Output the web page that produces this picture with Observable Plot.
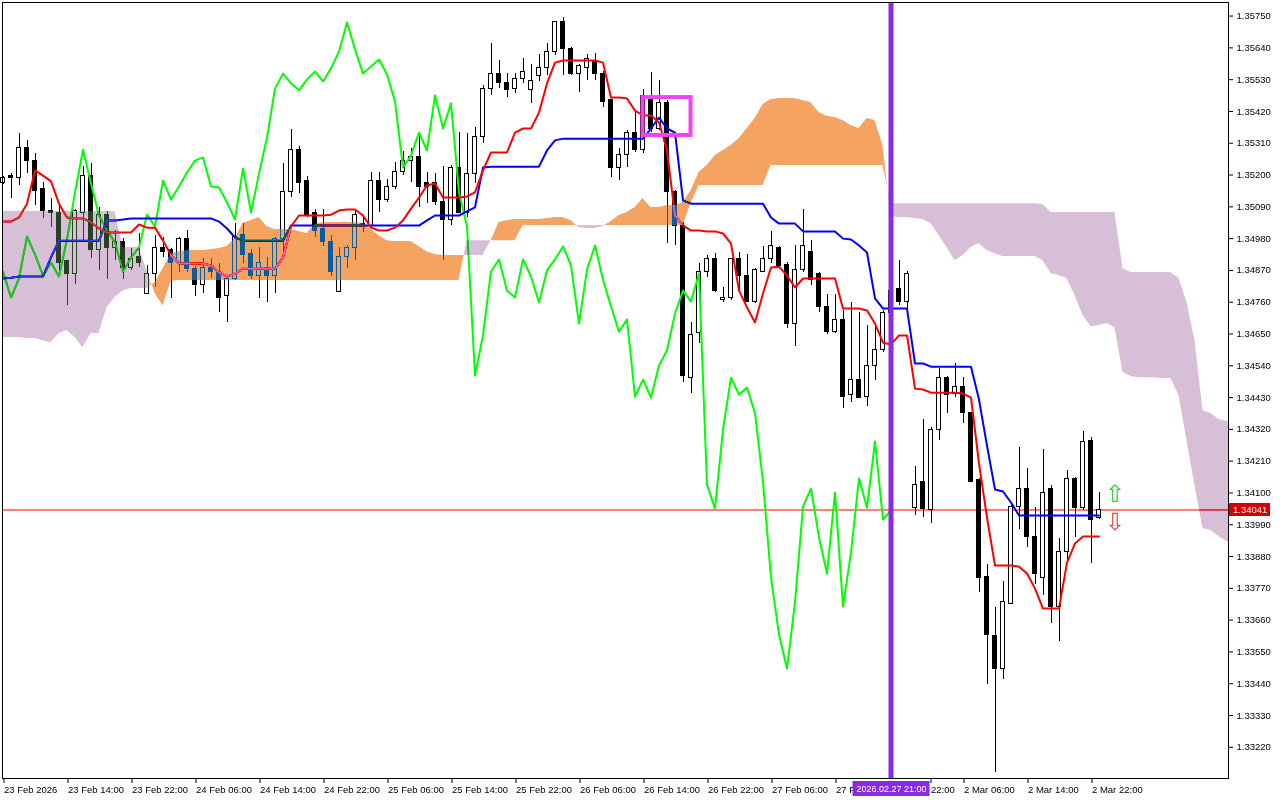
<!DOCTYPE html>
<html><head><meta charset="utf-8">
<script src="https://cdn.jsdelivr.net/npm/d3@7"></script>
<script src="https://cdn.jsdelivr.net/npm/@observablehq/plot@0.6"></script>
<style>html,body{margin:0;padding:0;background:#fff;} #chart svg{display:block}</style>
</head><body><div id="chart"></div>
<script>
// ---- GBPUSD H1 candles (bar 0 = 23 Feb 06:00) ----
const open = [
1.35171,1.35195,1.35191,1.35292,1.35250,1.35150,1.35077,1.35070,1.34901,1.34859,
1.35070,1.35198,1.34942,1.35063,1.34946,1.34970,1.34880,1.34915,1.34790,1.34859,
1.34949,1.34939,1.34897,1.34980,1.34876,1.34821,1.34880,1.34866,1.34780,1.34842,
1.34994,1.34928,1.34852,1.34880,1.34849,1.34977,1.35140,1.35288,1.35178,1.35067,
1.35012,1.34970,1.34797,1.34915,1.34946,1.35032,1.35022,1.35181,1.35115,1.35160,
1.35209,1.35250,1.35261,1.35171,1.35171,1.35105,1.35046,1.35223,1.35070,1.35205,
1.35330,1.35499,1.35551,1.35517,1.35499,1.35531,1.35493,1.35541,1.35569,1.35624,
1.35728,1.35635,1.35551,1.35572,1.35596,1.35548,1.35458,1.35226,1.35268,1.35347,
1.35285,1.35458,1.35361,1.35448,1.35140,1.35022,1.34499,1.34652,1.34866,1.34911,
1.34769,1.34773,1.34908,1.34852,1.34759,1.34866,1.34911,1.34949,1.34890,1.34686,
1.34870,1.34935,1.34859,1.34745,1.34658,1.34700,1.34440,1.34492,1.34433,1.34541,
1.34593,1.34721,1.34804,1.34762,1.34049,1.34139,1.34042,1.34319,1.34499,1.34444,
1.34468,1.34375,1.34146,1.33810,1.33606,1.33492,1.33717,1.34053,1.34112,1.33949,
1.33807,1.34115,1.33707,1.33894,1.34150,1.34049,1.34281,1.34015];
const high = [
1.35195,1.35205,1.35344,1.35320,1.35275,1.35174,1.35119,1.35095,1.34904,1.35081,
1.35229,1.35240,1.35088,1.35074,1.35008,1.34980,1.34946,1.34998,1.34887,1.34991,
1.34984,1.34946,1.34984,1.35008,1.34883,1.34911,1.34911,1.34894,1.34845,1.35032,
1.35032,1.34942,1.34949,1.34915,1.34984,1.35240,1.35358,1.35299,1.35195,1.35081,
1.35081,1.34991,1.34949,1.34956,1.35074,1.35060,1.35209,1.35209,1.35185,1.35243,
1.35281,1.35292,1.35344,1.35209,1.35205,1.35229,1.35233,1.35347,1.35344,1.35365,
1.35510,1.35655,1.35596,1.35551,1.35551,1.35603,1.35583,1.35617,1.35655,1.35731,
1.35745,1.35641,1.35583,1.35617,1.35621,1.35558,1.35461,1.35292,1.35354,1.35416,
1.35496,1.35555,1.35527,1.35458,1.35146,1.35036,1.34690,1.34894,1.34922,1.34928,
1.34811,1.34911,1.34932,1.34925,1.34876,1.34953,1.35005,1.34953,1.34897,1.34956,
1.35081,1.34973,1.34863,1.34787,1.34787,1.34731,1.34759,1.34724,1.34679,1.34679,
1.34731,1.34818,1.34904,1.34866,1.34191,1.34354,1.34326,1.34530,1.34503,1.34548,
1.34499,1.34378,1.34150,1.33852,1.33703,1.33793,1.34056,1.34257,1.34184,1.34049,
1.34250,1.34125,1.33942,1.34177,1.34153,1.34312,1.34292,1.34101];
const low = [
1.35167,1.35119,1.35164,1.35205,1.35095,1.35050,1.35018,1.34870,1.34748,1.34821,
1.34973,1.34911,1.34870,1.34838,1.34904,1.34838,1.34870,1.34880,1.34790,1.34811,
1.34915,1.34773,1.34863,1.34863,1.34780,1.34790,1.34842,1.34724,1.34690,1.34835,
1.34894,1.34838,1.34773,1.34759,1.34790,1.34908,1.35122,1.35136,1.35053,1.34984,
1.34953,1.34849,1.34797,1.34876,1.34904,1.35001,1.35018,1.35070,1.35105,1.35150,
1.35198,1.35174,1.35088,1.35101,1.35095,1.34904,1.35025,1.35067,1.35053,1.35171,
1.35309,1.35475,1.35499,1.35468,1.35482,1.35517,1.35448,1.35524,1.35544,1.35614,
1.35544,1.35544,1.35486,1.35527,1.35527,1.35434,1.35191,1.35181,1.35226,1.35278,
1.35275,1.35347,1.35354,1.34963,1.34956,1.34482,1.34444,1.34617,1.34845,1.34793,
1.34759,1.34766,1.34793,1.34759,1.34755,1.34863,1.34894,1.34876,1.34669,1.34607,
1.34863,1.34818,1.34724,1.34648,1.34652,1.34392,1.34413,1.34427,1.34399,1.34489,
1.34586,1.34703,1.34748,1.34731,1.34022,1.34015,1.33994,1.34281,1.34375,1.34430,
1.34340,1.34136,1.33755,1.33437,1.33132,1.33454,1.33714,1.33973,1.33911,1.33783,
1.33745,1.33648,1.33586,1.33866,1.33946,1.34039,1.33855,1.34008];
const close = [
1.35191,1.35191,1.35292,1.35250,1.35146,1.35074,1.35070,1.34897,1.34856,1.35077,
1.35195,1.34939,1.35063,1.34946,1.34967,1.34880,1.34911,1.34897,1.34856,1.34949,
1.34935,1.34897,1.34977,1.34876,1.34821,1.34880,1.34866,1.34776,1.34842,1.34987,
1.34925,1.34852,1.34897,1.34849,1.34977,1.35140,1.35288,1.35171,1.35060,1.35008,
1.34967,1.34866,1.34915,1.34949,1.35063,1.35022,1.35181,1.35115,1.35160,1.35209,
1.35250,1.35261,1.35160,1.35157,1.35105,1.35046,1.35223,1.35070,1.35205,1.35330,
1.35499,1.35551,1.35517,1.35493,1.35531,1.35558,1.35524,1.35569,1.35627,1.35728,
1.35635,1.35551,1.35576,1.35600,1.35548,1.35454,1.35226,1.35268,1.35347,1.35285,
1.35475,1.35361,1.35448,1.35140,1.35022,1.34506,1.34645,1.34866,1.34908,1.34800,
1.34776,1.34908,1.34849,1.34759,1.34870,1.34908,1.34953,1.34887,1.34686,1.34873,
1.34956,1.34838,1.34745,1.34658,1.34700,1.34433,1.34492,1.34430,1.34541,1.34593,
1.34721,1.34800,1.34762,1.34859,1.34129,1.34046,1.34319,1.34499,1.34440,1.34465,
1.34375,1.34139,1.33807,1.33610,1.33492,1.33721,1.34053,1.34115,1.33946,1.33821,
1.34101,1.33707,1.33894,1.34150,1.34049,1.34278,1.34008,1.34041];

// ---- Ichimoku lines ----
const tenkan = [
1.35039,1.35039,1.35053,1.35101,1.35216,1.35198,1.35178,1.35101,1.35053,1.35050,
1.35050,1.35036,1.35015,1.35001,1.35001,1.35001,1.35001,1.35029,1.35018,1.35018,
1.34973,1.34922,1.34894,1.34894,1.34894,1.34894,1.34887,1.34863,1.34849,1.34859,
1.34876,1.34876,1.34876,1.34876,1.34876,1.34915,1.35022,1.35060,1.35060,1.35060,
1.35060,1.35063,1.35077,1.35081,1.35081,1.35060,1.35018,1.35008,1.35008,1.35018,
1.35043,1.35084,1.35122,1.35164,1.35171,1.35122,1.35122,1.35122,1.35126,1.35140,
1.35216,1.35278,1.35278,1.35278,1.35347,1.35361,1.35361,1.35416,1.35517,1.35589,
1.35596,1.35596,1.35596,1.35596,1.35596,1.35589,1.35468,1.35468,1.35465,1.35423,
1.35406,1.35406,1.35382,1.35285,1.35060,1.35025,1.35008,1.35008,1.35005,1.35005,
1.34998,1.34963,1.34800,1.34742,1.34690,1.34790,1.34880,1.34883,1.34852,1.34811,
1.34842,1.34842,1.34842,1.34842,1.34842,1.34738,1.34738,1.34738,1.34731,1.34686,
1.34620,1.34614,1.34645,1.34645,1.34461,1.34458,1.34447,1.34447,1.34447,1.34447,
1.34444,1.34430,1.34202,1.34015,1.33849,1.33849,1.33849,1.33845,1.33821,1.33769,
1.33700,1.33700,1.33700,1.33859,1.33925,1.33949,1.33949,1.33949];
const kijun = [
1.34842,1.34845,1.34849,1.34849,1.34849,1.34849,1.34915,1.34973,1.34973,1.34973,
1.34973,1.34973,1.34973,1.35043,1.35043,1.35046,1.35050,1.35050,1.35050,1.35050,
1.35050,1.35050,1.35050,1.35050,1.35050,1.35050,1.35050,1.35039,1.35015,1.34984,
1.34973,1.34973,1.34973,1.34973,1.34973,1.34973,1.35025,1.35025,1.35025,1.35025,
1.35025,1.35025,1.35025,1.35025,1.35025,1.35025,1.35025,1.35025,1.35025,1.35025,
1.35025,1.35025,1.35025,1.35043,1.35060,1.35060,1.35060,1.35060,1.35074,1.35088,
1.35226,1.35229,1.35229,1.35229,1.35229,1.35229,1.35229,1.35229,1.35285,1.35320,
1.35326,1.35326,1.35326,1.35326,1.35326,1.35326,1.35326,1.35326,1.35326,1.35326,
1.35326,1.35361,1.35399,1.35361,1.35347,1.35112,1.35101,1.35101,1.35101,1.35101,
1.35101,1.35101,1.35101,1.35101,1.35101,1.35101,1.35053,1.35032,1.35032,1.35032,
1.35005,1.35005,1.35005,1.35005,1.35005,1.34980,1.34977,1.34956,1.34932,1.34773,
1.34738,1.34738,1.34738,1.34738,1.34548,1.34548,1.34537,1.34537,1.34537,1.34537,
1.34537,1.34537,1.34423,1.34264,1.34112,1.34105,1.34067,1.34022,1.34022,1.34022,
1.34022,1.34022,1.34022,1.34022,1.34022,1.34022,1.34022,1.34022];
// Senkou spans as drawn (already shifted 26 bars forward), bars 0..154
const spanA = [
1.34638,1.34638,1.34638,1.34634,1.34634,1.34627,1.34620,1.34652,1.34662,1.34638,
1.34603,1.34652,1.34652,1.34742,1.34776,1.34800,1.34807,1.34807,1.34807,1.34828,
1.34876,1.34928,1.34935,1.34939,1.34939,1.34939,1.34942,1.34946,1.34953,1.34980,
1.35032,1.35043,1.35053,1.35022,1.35012,1.35012,1.35012,1.35005,1.34998,1.35029,
1.35036,1.35036,1.35036,1.35036,1.35036,1.35032,1.35012,1.34991,1.34973,1.34970,
1.34970,1.34970,1.34953,1.34935,1.34925,1.34922,1.34922,1.34922,1.34922,1.34922,
1.34922,1.34973,1.35036,1.35043,1.35046,1.35046,1.35046,1.35046,1.35050,1.35053,
1.35053,1.35043,1.35018,1.35015,1.35015,1.35022,1.35039,1.35060,1.35070,1.35088,
1.35119,1.35088,1.35088,1.35095,1.35095,1.35105,1.35146,1.35209,1.35233,1.35268,
1.35285,1.35302,1.35326,1.35361,1.35396,1.35444,1.35461,1.35465,1.35465,1.35465,
1.35458,1.35451,1.35416,1.35403,1.35399,1.35389,1.35371,1.35361,1.35396,1.35389,
1.35302,1.35056,1.35053,1.35053,1.35050,1.35046,1.35032,1.34991,1.34949,1.34904,
1.34922,1.34949,1.34963,1.34939,1.34928,1.34918,1.34918,1.34918,1.34918,1.34918,
1.34904,1.34859,1.34852,1.34842,1.34783,1.34714,1.34676,1.34679,1.34686,1.34672,
1.34517,1.34503,1.34499,1.34499,1.34499,1.34496,1.34496,1.34437,1.34281,1.34125,
1.33977,1.33970,1.33949,1.33931,1.33928];
const spanB = [
1.35074,1.35074,1.35074,1.35074,1.35074,1.35074,1.35074,1.35074,1.35074,1.35074,
1.35074,1.35074,1.35074,1.35074,1.35074,1.34949,1.34949,1.34949,1.34870,1.34790,
1.34748,1.34832,1.34835,1.34835,1.34835,1.34835,1.34835,1.34835,1.34835,1.34835,
1.34835,1.34835,1.34835,1.34835,1.34835,1.34835,1.34835,1.34835,1.34835,1.34835,
1.34835,1.34835,1.34835,1.34835,1.34835,1.34835,1.34835,1.34835,1.34835,1.34835,
1.34835,1.34835,1.34835,1.34835,1.34835,1.34835,1.34835,1.34835,1.34973,1.34973,
1.34973,1.34973,1.34973,1.34973,1.34973,1.35025,1.35025,1.35025,1.35025,1.35025,
1.35025,1.35025,1.35025,1.35025,1.35025,1.35025,1.35025,1.35025,1.35025,1.35025,
1.35025,1.35025,1.35025,1.35025,1.35025,1.35025,1.35101,1.35164,1.35164,1.35164,
1.35164,1.35164,1.35164,1.35164,1.35164,1.35164,1.35233,1.35233,1.35233,1.35233,
1.35233,1.35233,1.35233,1.35233,1.35233,1.35233,1.35233,1.35233,1.35233,1.35233,
1.35233,1.35101,1.35101,1.35101,1.35101,1.35101,1.35101,1.35101,1.35101,1.35101,
1.35101,1.35101,1.35101,1.35101,1.35101,1.35101,1.35101,1.35101,1.35101,1.35101,
1.35098,1.35070,1.35070,1.35070,1.35070,1.35070,1.35070,1.35070,1.35070,1.35070,
1.34876,1.34863,1.34863,1.34863,1.34863,1.34863,1.34863,1.34842,1.34759,1.34627,
1.34385,1.34375,1.34354,1.34347,1.34347];

// ---- axes / annotations ----
const yTicks = [1.33220,1.33330,1.33440,1.33550,1.33660,1.33770,1.33880,1.33990,1.34100,1.34210,1.34320,1.34430,
                1.34540,1.34650,1.34760,1.34870,1.34980,1.35090,1.35200,1.35310,1.35420,1.35530,1.35640,1.35750];
const xTickBars = [0,8,16,24,32,40,48,56,64,72,80,88,96,104,120,128,136];
const xTickLabels = ["23 Feb 2026","23 Feb 14:00","23 Feb 22:00","24 Feb 06:00","24 Feb 14:00","24 Feb 22:00",
  "25 Feb 06:00","25 Feb 14:00","25 Feb 22:00","26 Feb 06:00","26 Feb 14:00","26 Feb 22:00",
  "27 Feb 06:00","27 F","2 Mar 06:00","2 Mar 14:00","2 Mar 22:00"];
// tick partly hidden by the vertical-line time label: only "22:00" shows, right of that label
const hiddenTickBar = 112, hiddenTickText = "22:00";
const lastPrice = 1.34041;
const vLine = {bar: 111, label: "2026.02.27 21:00"};
const boxObject = [{bar1: 80, bar2: 86, price1: 1.35468, price2: 1.35337}];
const arrowsUp = [{bar: 139, price: 1.34094}];
const arrowsDown = [{bar: 139, price: 1.33997}];

const xDomain = [-0.0625, 153.1875];
const yDomain = [1.33112, 1.35797];
const FONT = "'Liberation Sans', Arial, sans-serif";

const bars = open.map((o, i) => ({i, o, h: high[i], l: low[i], c: close[i]}));
const upBars = bars.filter(d => d.c >= d.o);
const downBars = bars.filter(d => d.c < d.o);
const tenkanData = tenkan.map((v, i) => ({i, v}));
const kijunData = kijun.map((v, i) => ({i, v}));
const chikouData = close.slice(26).map((v, k) => ({i: k, v}));
const cloud = spanA.map((a, i) => ({i, a, b: spanB[i]}));

const UPFILL = "#0b5b9f", DOWNFILL = "#274027", CLIPA = "#010203", CLIPB = "#030201";

const chart = Plot.plot({
  width: 1280, height: 800,
  marginLeft: 2, marginRight: 52, marginTop: 2, marginBottom: 22,
  style: {fontFamily: FONT, fontSize: "9.5px", background: "white", color: "black", overflow: "visible"},
  x: {type: "linear", domain: xDomain},
  y: {type: "linear", domain: yDomain},
  marks: [
    Plot.frame({fill: "white"}),
    Plot.ruleY([lastPrice], {stroke: "#ff0000", strokeWidth: 1}),
    Plot.ruleX(bars, {x: "i", y1: "l", y2: "h", stroke: "black", strokeWidth: 1, shapeRendering: "crispEdges"}),
    Plot.rect(upBars, {x1: d => d.i - 0.25, x2: d => d.i + 0.25, y1: "o", y2: "c", fill: "white", stroke: "black", strokeWidth: 1, shapeRendering: "crispEdges"}),
    Plot.rect(downBars, {x1: d => d.i - 0.25, x2: d => d.i + 0.25, y1: "o", y2: "c", fill: "black", stroke: "black", strokeWidth: 1, shapeRendering: "crispEdges"}),
    Plot.line(chikouData, {x: "i", y: "v", stroke: "#00ff00", strokeWidth: 2}),
    Plot.line(kijunData, {x: "i", y: "v", stroke: "#0000ff", strokeWidth: 2}),
    Plot.line(tenkanData, {x: "i", y: "v", stroke: "#ff0000", strokeWidth: 2}),
    Plot.areaY(cloud, {x: "i", y1: "a", y2: "b", fill: UPFILL}),
    Plot.areaY(cloud, {x: "i", y1: "a", y2: "b", fill: DOWNFILL}),
    Plot.areaY(cloud, {x: "i", y1: "a", y2: () => yDomain[1], fill: CLIPA}),
    Plot.areaY(cloud, {x: "i", y1: "a", y2: () => yDomain[0], fill: CLIPB}),
    Plot.ruleX([vLine.bar], {stroke: "#8a2be2", strokeWidth: 5}),
    Plot.rect(boxObject, {x1: "bar1", x2: "bar2", y1: "price1", y2: "price2", fill: "none", stroke: "#f044f0", strokeWidth: 4}),
    Plot.text(arrowsUp, {x: "bar", y: "price", text: () => "\u21E7", fill: "#3cc43c", fontSize: 24, fontFamily: "DejaVu Sans"}),
    Plot.text(arrowsDown, {x: "bar", y: "price", text: () => "\u21E9", fill: "#ee4444", fontSize: 24, fontFamily: "DejaVu Sans"}),
    Plot.axisY({anchor: "right", ticks: yTicks, tickFormat: d => d.toFixed(5), tickSize: 4, tickPadding: 4, fontSize: 9.5, label: null}),
    Plot.axisX({anchor: "bottom", ticks: xTickBars, tickFormat: d => xTickLabels[xTickBars.indexOf(d)], tickSize: 5, tickPadding: 3, textAnchor: "start", dx: 1, fontSize: 9.5, label: null}),
    Plot.axisX({anchor: "bottom", ticks: [hiddenTickBar], tickFormat: () => hiddenTickText, tickSize: 5, tickPadding: 3, textAnchor: "start", dx: 32, fontSize: 9.5, label: null}),
    Plot.frame({stroke: "black", strokeWidth: 1})
  ]
});

const svg = chart;
const NS = "http://www.w3.org/2000/svg";
const sx = chart.scale("x"), sy = chart.scale("y");
const fx = v => (sx && sx.apply) ? sx.apply(v) : 2 + (v - xDomain[0]) / (xDomain[1] - xDomain[0]) * 1226;
const fy = v => (sy && sy.apply) ? sy.apply(v) : 2 + (yDomain[1] - v) / (yDomain[1] - yDomain[0]) * 776;

const defs = document.createElementNS(NS, "defs");
svg.insertBefore(defs, svg.firstChild);
// clip to the plotting frame
const fc = document.createElementNS(NS, "clipPath");
fc.setAttribute("id", "frameClip");
const fr = document.createElementNS(NS, "rect");
fr.setAttribute("x", fx(xDomain[0])); fr.setAttribute("y", fy(yDomain[1]));
fr.setAttribute("width", fx(xDomain[1]) - fx(xDomain[0])); fr.setAttribute("height", fy(yDomain[0]) - fy(yDomain[1]));
fc.appendChild(fr); defs.appendChild(fc);

function findG(fill) {
  const el = svg.querySelector(`[fill="${fill}"]`);
  if (!el) return null;
  return el.tagName.toLowerCase() === "g" ? el : el.parentNode;
}
function toClip(fill, id) {
  const g = findG(fill);
  if (!g) return;
  const cp = document.createElementNS(NS, "clipPath");
  cp.setAttribute("id", id);
  g.querySelectorAll("path").forEach(p => {
    const q = p.cloneNode(true);
    const t = g.getAttribute("transform");
    if (t) q.setAttribute("transform", t);
    cp.appendChild(q);
  });
  defs.appendChild(cp);
  g.remove();
}
// Kumo: split the band at Senkou A (sandybrown where A is above B, thistle where B is above A),
// drawn in "difference" mode so candles and lines inside the cloud change colour as in MT5
function blendClip(fill, id) {
  const g = findG(fill);
  if (!g) return;
  const outer = document.createElementNS(NS, "g");
  outer.setAttribute("clip-path", "url(#frameClip)");
  outer.setAttribute("style", "mix-blend-mode: difference");
  const inner = document.createElementNS(NS, "g");
  inner.setAttribute("clip-path", `url(#${id})`);
  g.parentNode.insertBefore(outer, g);
  outer.appendChild(inner);
  inner.appendChild(g);
}
toClip(CLIPA, "kumoAbove");
toClip(CLIPB, "kumoBelow");
blendClip(UPFILL, "kumoBelow");
blendClip(DOWNFILL, "kumoAbove");

// labels on the axes (vertical line time, current price)
const lab = d3.select(svg).append("g").attr("font-family", FONT);
const vx = fx(vLine.bar);
lab.append("rect").attr("x", vx - 38).attr("y", 781).attr("width", 77).attr("height", 15).attr("fill", "#8a2be2");
lab.append("text").attr("x", vx + 1).attr("y", 788.5).attr("dy", "0.35em").attr("font-size", 9).attr("text-anchor", "middle").attr("fill", "white").text(vLine.label);
const py = fy(lastPrice);
lab.append("rect").attr("x", 1229).attr("y", py - 6.5).attr("width", 41).attr("height", 13).attr("fill", "#d40000");
lab.append("text").attr("x", 1233).attr("y", py).attr("dy", "0.35em").attr("font-size", 9.5).attr("text-anchor", "start").attr("fill", "white").text(lastPrice.toFixed(5));

document.getElementById("chart").appendChild(svg);
</script>
</body></html>
